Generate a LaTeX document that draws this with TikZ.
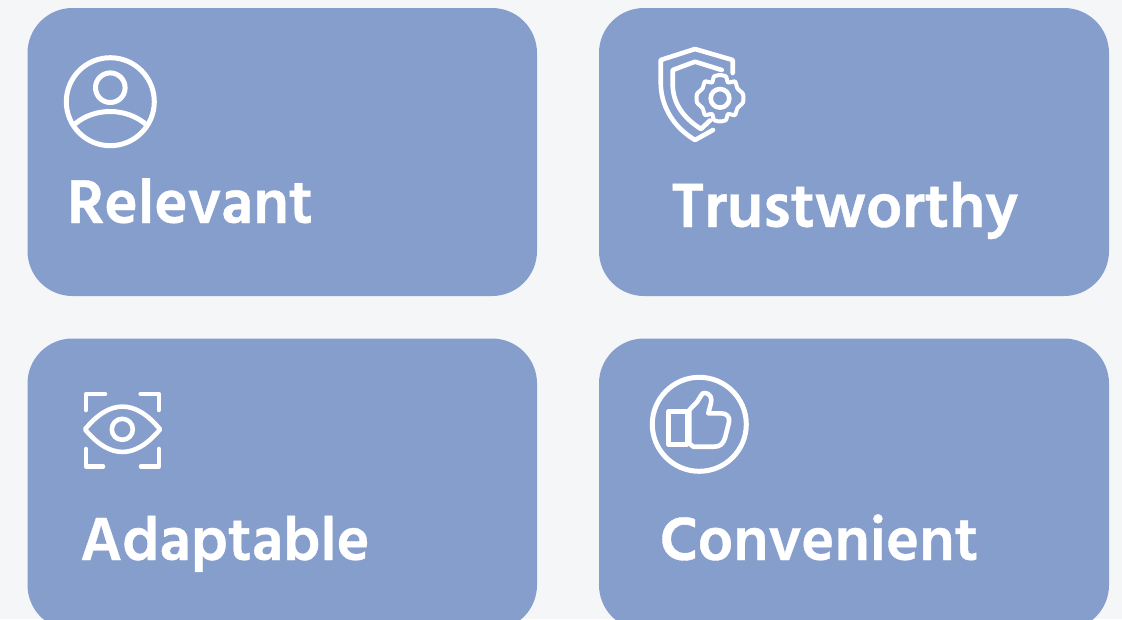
\documentclass[tikz,border=0pt]{standalone}
\usepackage{fontspec}
\setmainfont{Hind Siliguri}[Script=Latin,BoldFont={Hind Siliguri SemiBold},BoldFeatures={FakeBold=0.6}]
\definecolor{cardblue}{HTML}{869ECC}
\definecolor{pagebg}{HTML}{F5F6F8}
\tikzset{
  card/.style={fill=cardblue,rounded corners=45pt},
  iconline/.style={draw=white,line width=5pt,line cap=round,line join=round},
  iconthin/.style={draw=white,line width=4.6pt,line cap=round,line join=round},
  cardlabel/.style={text=white,inner sep=0pt,anchor=base west},
}
\begin{document}
\begin{tikzpicture}[x=1pt,y=-1pt]
\path[use as bounding box] (0,0) rectangle (1122,619);
\clip (0,0) rectangle (1122,619);
\fill[pagebg] (0,0) rectangle (1122,619);
\path[card] (27.5,8) rectangle (537,296);
\path[card] (599,8) rectangle (1109,296);
\path[card] (27.5,338.5) rectangle (537,630);
\path[card] (599,338.5) rectangle (1109,630);
% person
\draw[iconline] (110.3,101.7) circle (44);
\draw[iconline] (110.3,87.7) circle (14.8);
\draw[iconline] (75.5,123.5) .. controls (95,107.5) and (125,107.5) .. (145,123.5);
% shield
\draw[iconthin] (732.7,73) -- (732.7,60) -- (695,49) -- (660.7,60) -- (660.7,82)
  .. controls (660.7,108) and (675,128) .. (695,140) -- (713,130);
\draw[iconthin] (721.7,70) -- (695,61.7) -- (672.7,70) -- (672.7,84)
  .. controls (672.7,102) and (682,117) .. (701,129) -- (710,120.5);
% gear
\draw[iconthin,line width=4pt,fill=cardblue]
  plot[smooth cycle,tension=0.35] coordinates {
  (720,75) (726,76.5) (728,82.5) (735,81.5) (737.5,88.5) (743,94) (743,102.5) (737.5,108) (735,115) (728,114) (726,120) (720,121.5) (714,120) (712,114) (705,115) (702.5,108) (697,102.5) (697,94) (702.5,88.5) (705,81.5) (712,82.5) (714,76.5)};
\draw[iconline,line width=4.6pt] (720,98.3) circle (9.3);
% eye
\draw[iconthin] (105,394) -- (86,394) -- (86,410);
\draw[iconthin] (140.7,394) -- (158.8,394) -- (158.8,410);
\draw[iconthin] (86,449) -- (86,466.5) -- (103,466.5);
\draw[iconthin] (158.8,449) -- (158.8,466.5) -- (141,466.5);
\draw[iconthin] (85,429.3) .. controls (110,399) and (135,399) .. (160,429.3)
  .. controls (135,459.5) and (110,459.5) .. cycle;
\draw[iconthin] (122.3,429.3) circle (10.5);
% thumb
\draw[iconline] (699.3,424.3) circle (47);
\draw[iconthin] (668.3,411.7) rectangle (687,444.3);
\draw[iconthin] (689.3,410) -- (697,402) .. controls (701,396) and (702,393) .. (704,393)
  .. controls (711,393) and (712,399) .. (711,403) -- (708.3,413.3) -- (721,413.3)
  .. controls (727,413.3) and (730,417) .. (729,422) -- (725,438)
  .. controls (723,444) and (720,446.7) .. (714,446.7) -- (693.3,446.7) -- (689.3,443.3) -- cycle;
% labels
\node[cardlabel,font=\fontsize{63.3}{64}\selectfont\bfseries] (relevant) at (67,223) {Relevant};
\node[cardlabel,font=\fontsize{64}{64}\selectfont\bfseries] (trustworthy) at (671,227) {Trustworthy};
\node[cardlabel,font=\fontsize{62.4}{64}\selectfont\bfseries] (adaptable) at (80,560) {Adaptable};
\node[cardlabel,font=\fontsize{62.6}{64}\selectfont\bfseries] (convenient) at (659.5,560) {Convenient};
\end{tikzpicture}
\end{document}
